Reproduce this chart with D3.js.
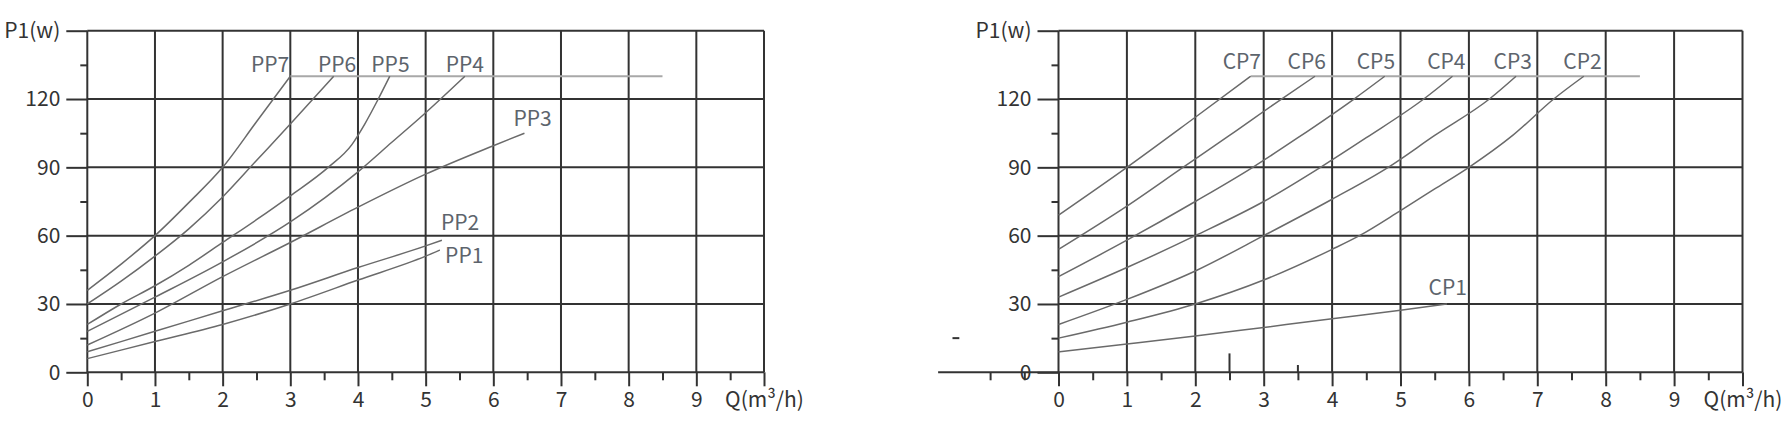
<!DOCTYPE html>
<html>
<head>
<meta charset="utf-8">
<script src="https://cdn.jsdelivr.net/npm/d3@7/dist/d3.min.js"></script>
<style>
  body { margin: 0; background: #fff; }
  text { font-family: "Noto Sans CJK SC", "Noto Sans", sans-serif; }
</style>
</head>
<body>
<svg id="chart" width="1781" height="422"></svg>
<script>
'use strict'

// axes
const qTicks = [0, 1, 2, 3, 4, 5, 6, 7, 8, 9, 10];
const qMinor = [0.5, 1.5, 2.5, 3.5, 4.5, 5.5, 6.5, 7.5, 8.5, 9.5];
const pTicks = [0, 30, 60, 90, 120, 150];
const pMinor = [15, 45, 75, 105, 135];
const qTitle = 'Q(m³/h)',
  pTitle = 'P1(w)';

// PP curves (Q m3/h, P1 w)
const ppNames = ['PP1', 'PP2', 'PP3', 'PP4', 'PP5', 'PP6', 'PP7'];
const pp1 = [[0, 6], [1, 13.5], [2, 21], [3, 30], [4, 40.5], [5, 51], [5.21, 53.7]];
const pp2 = [[0, 9], [1, 18], [2, 27], [3, 36], [4, 46], [5, 55.5], [5.24, 58]];
const pp3 = [[0, 12], [1, 26], [2, 42], [3, 57], [4, 72.5], [5, 87], [6, 99.5], [6.46, 105]];
const pp4 = [[0, 18], [1, 33], [2, 48.5], [3, 66], [4, 88], [4.5, 101], [5, 114], [5.58, 130]];
const pp5 = [[0, 21], [0.5, 30], [1, 38], [1.5, 47], [2, 57], [2.5, 67], [3, 77.5], [3.56, 90], [3.91, 100], [4.1, 109], [4.3, 120], [4.47, 130]];
const pp6 = [[0, 30], [0.5, 40], [1, 51], [1.5, 63], [2, 77], [2.5, 93], [3, 109], [3.64, 130]];
const pp7 = [[0, 36], [0.5, 47.5], [1, 60], [1.5, 74.5], [2, 90], [2.5, 110], [3, 130]];
const ppLabelQ = [5.57, 5.51, 6.58, 5.58, 4.48, 3.69, 2.70];
const ppLabelP = [48, 62.5, 108, 132, 132, 132, 132];
const ppLimit = [[3, 130], [8.5, 130]];

// CP curves
const cpNames = ['CP1', 'CP2', 'CP3', 'CP4', 'CP5', 'CP6', 'CP7'];
const cp1 = [[0, 9], [1, 12.4], [2, 15.9], [3, 19.7], [4, 23.5], [5, 27.2], [5.68, 30]];
const cp2 = [[0, 15], [1, 22], [2, 30], [3, 40.5], [4, 54], [4.4, 60], [5, 71], [5.5, 80.5], [6, 90], [6.64, 104], [7.24, 120], [7.68, 130]];
const cp3 = [[0, 21], [1, 32], [2, 44.5], [3, 60], [4, 76], [4.82, 90], [5.5, 104], [6.3, 120], [6.69, 130]];
const cp4 = [[0, 33], [1, 46], [2, 60], [3, 75], [3.83, 90], [4.5, 103], [5.34, 120], [5.76, 130]];
const cp5 = [[0, 42], [1, 58], [2, 75], [2.84, 90], [3.5, 103], [4.32, 120], [4.77, 130]];
const cp6 = [[0, 54], [1, 73], [1.82, 90], [2.5, 104], [3.26, 120], [3.75, 130]];
const cp7 = [[0, 69], [1, 90], [2, 112], [2.81, 130]];
const cpLabelQ = [5.69, 7.66, 6.64, 5.67, 4.64, 3.63, 2.68];
const cpLabelP = [34, 133, 133, 133, 133, 133, 133];
const cpLimit = [[2.81, 130], [8.5, 130]];

const svg = d3.select('#chart');
const grid_color = '#333',
  curve_color = '#6a6a6a',
  label_color = '#5d646c';

function draw_chart(opt) {
  const x = d3.scaleLinear().domain([0, 10]).range([opt.left, opt.right]);
  const y = d3.scaleLinear().domain([0, 150]).range([372.3, 30.7]);
  const g = svg.append('g');

  // grid
  g.append('g').selectAll('line')
    .data(qTicks)
    .join('line')
    .attr('x1', d => x(d)).attr('x2', d => x(d))
    .attr('y1', y(0)).attr('y2', y(150))
    .attr('stroke', grid_color).attr('stroke-width', 2);
  g.append('g').selectAll('line')
    .data(pTicks)
    .join('line')
    .attr('x1', x(0)).attr('x2', x(10))
    .attr('y1', d => y(d)).attr('y2', d => y(d))
    .attr('stroke', grid_color).attr('stroke-width', 2);
  g.append('line')
    .attr('x1', x(opt.axisStart)).attr('x2', x(0))
    .attr('y1', y(0)).attr('y2', y(0))
    .attr('stroke', grid_color).attr('stroke-width', 2);

  // y axis
  g.append('g')
    .attr('transform', `translate(${x(0)},0)`)
    .call(d3.axisLeft(y).tickValues(pTicks).tickSize(21).tickPadding(6)
      .tickFormat(d => d === 150 ? pTitle : d));
  g.append('g')
    .attr('transform', `translate(${x(0)},0)`)
    .call(d3.axisLeft(y).tickValues(pMinor).tickSize(7).tickFormat(''));

  // x axis
  g.append('g')
    .attr('transform', `translate(0,${y(0)})`)
    .call(d3.axisBottom(x).tickValues(qTicks).tickSize(14).tickPadding(6)
      .tickFormat(d => d === 10 ? qTitle : d));
  g.append('g')
    .attr('transform', `translate(0,${y(0)})`)
    .call(d3.axisBottom(x).tickValues(opt.minor).tickSize(8).tickFormat(''));

  g.selectAll('.domain').remove();
  g.selectAll('.tick line').attr('stroke', grid_color).attr('stroke-width', 2);
  g.selectAll('.tick text')
    .attr('fill', '#333')
    .style('font-size', '21px');

  // upper limit line
  const line = d3.line()
    .x(d => x(d[0]))
    .y(d => y(d[1]))
    .curve(d3.curveMonotoneX);
  g.append('path')
    .attr('d', line(opt.limit))
    .attr('fill', 'none')
    .attr('stroke', '#a8a8a8')
    .attr('stroke-width', 2);

  g.append('g').selectAll('path')
    .data(opt.curves)
    .join('path')
    .attr('d', d => line(d))
    .attr('fill', 'none')
    .attr('stroke', curve_color)
    .attr('stroke-width', 1.5);

  g.append('g').selectAll('text')
    .data(opt.names)
    .join('text')
    .attr('x', (d, i) => x(opt.labelQ[i]))
    .attr('y', (d, i) => y(opt.labelP[i]))
    .attr('text-anchor', 'middle')
    .attr('fill', label_color)
    .style('font-size', '21px')
    .text(d => d);

  return {g, x, y};
}

draw_chart({
  left: 87.3, right: 764,
  axisStart: 0,
  minor: qMinor,
  curves: [pp1, pp2, pp3, pp4, pp5, pp6, pp7],
  names: ppNames,
  labelQ: ppLabelQ,
  labelP: ppLabelP,
  limit: ppLimit
});

const right = draw_chart({
  left: 1058.5, right: 1742.5,
  axisStart: -1.76,
  minor: [-1, -0.5].concat(qMinor),
  curves: [cp1, cp2, cp3, cp4, cp5, cp6, cp7],
  names: cpNames,
  labelQ: cpLabelQ,
  labelP: cpLabelP,
  limit: cpLimit
});

// stray marks in the right panel of the source picture
right.g.append('g').selectAll('line')
  .data([[2.5, 8.3], [3.5, 3.2]])
  .join('line')
  .attr('x1', d => right.x(d[0])).attr('x2', d => right.x(d[0]))
  .attr('y1', right.y(0)).attr('y2', d => right.y(d[1]))
  .attr('stroke', grid_color).attr('stroke-width', 2);
right.g.append('line')
  .attr('x1', right.x(-1.55)).attr('x2', right.x(-1.45))
  .attr('y1', right.y(15)).attr('y2', right.y(15))
  .attr('stroke', grid_color).attr('stroke-width', 2);
</script>
</body>
</html>
